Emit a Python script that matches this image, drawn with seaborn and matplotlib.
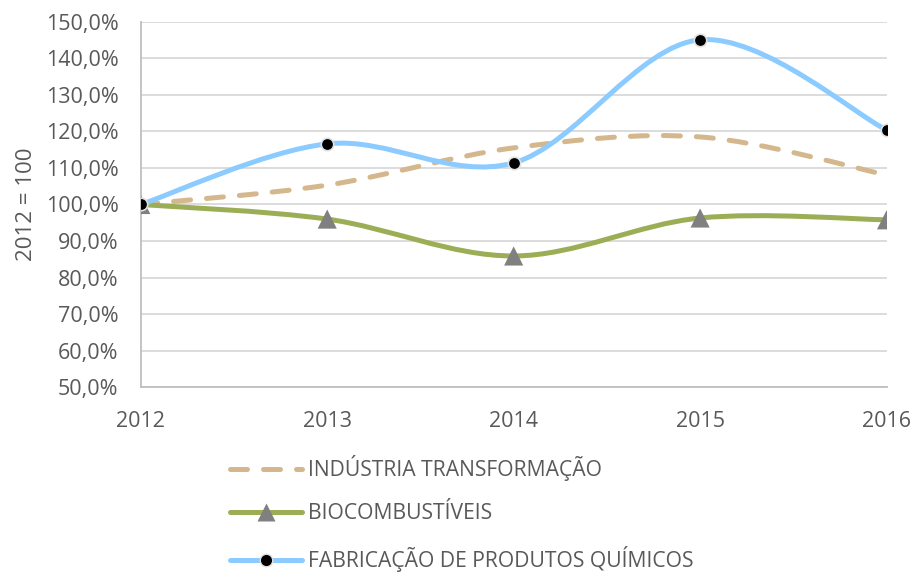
import numpy as np
import matplotlib
matplotlib.use("Agg")
import matplotlib.pyplot as plt
from matplotlib.path import Path
from matplotlib.patches import PathPatch
from matplotlib.lines import Line2D
from matplotlib.ticker import FuncFormatter
import pandas as pd
import seaborn as sns

# Dados (2012 = 100)
anos = [2012, 2013, 2014, 2015, 2016]
industria = [100.0, 105.3, 115.5, 118.5, 108.1]
biocombustiveis = [100.0, 96.0, 85.9, 96.3, 95.8]
quimicos = [100.0, 116.6, 111.4, 145.1, 120.4]
nomes = ["INDÚSTRIA TRANSFORMAÇÃO", "BIOCOMBUSTÍVEIS", "FABRICAÇÃO DE PRODUTOS QUÍMICOS"]

cor_ind = "#D4B78C"
cor_bio = "#9BAE55"
cor_qui = "#8CCBFF"
cor_txt = "#595959"

sns.set_style("white")
plt.rcParams["font.family"] = ["Open Sans", "DejaVu Sans"]

df = pd.DataFrame({"ano": anos, "industria": industria,
                   "bio": biocombustiveis, "quimicos": quimicos})


def curva_suave(x, y):
    # bezier estilo Excel (linha suavizada)
    pts = np.column_stack([x, y]).astype(float)
    n = len(pts)
    verts = [pts[0]]
    codes = [Path.MOVETO]
    for i in range(n - 1):
        p0 = pts[max(i - 1, 0)]
        p1 = pts[i]
        p2 = pts[i + 1]
        p3 = pts[min(i + 2, n - 1)]
        verts += [p1 + (p2 - p0) / 6, p2 - (p3 - p1) / 6, p2]
        codes += [Path.CURVE4] * 3
    return Path(verts, codes)


fig = plt.figure(figsize=(9.14, 5.76), dpi=100)
ax = fig.add_axes([0.154, 0.328, 0.816, 0.634])

lw = 3.6
dash = (0, (3.4, 3.2))
ax.add_patch(PathPatch(curva_suave(df["ano"], df["industria"]), fill=False,
                       edgecolor=cor_ind, lw=lw, linestyle=dash, capstyle="round", zorder=3))
ax.add_patch(PathPatch(curva_suave(df["ano"], df["bio"]), fill=False,
                       edgecolor=cor_bio, lw=lw, capstyle="round", zorder=4))
sns.scatterplot(data=df, x="ano", y="bio", marker="^", s=190, color="#808080",
                edgecolor="none", ax=ax, zorder=5, legend=False)
ax.add_patch(PathPatch(curva_suave(df["ano"], df["quimicos"]), fill=False,
                       edgecolor=cor_qui, lw=lw, capstyle="round", zorder=6))
sns.scatterplot(data=df, x="ano", y="quimicos", marker="o", s=80, color="black",
                edgecolor="#E0E0E0", linewidth=1.2, ax=ax, zorder=7, legend=False)

ax.set_xlim(2012, 2016)
ax.set_ylim(50, 150)
ax.set_xticks(anos)
ax.set_yticks(np.arange(50, 151, 10))
ax.yaxis.set_major_formatter(FuncFormatter(lambda v, p: f"{v:.1f}%".replace(".", ",")))
ax.grid(axis="y", color="#D9D9D9", lw=1.3)
ax.grid(axis="x", visible=False)
for s in ["top", "right"]:
    ax.spines[s].set_visible(False)
ax.spines["left"].set_color("#BFBFBF")
ax.spines["bottom"].set_color("#BFBFBF")
ax.spines["left"].set_linewidth(1.3)
ax.spines["bottom"].set_linewidth(1.3)
ax.tick_params(axis="y", length=0, pad=16, labelsize=15.5, labelcolor=cor_txt)
ax.tick_params(axis="x", length=0, pad=17, labelsize=15.5, labelcolor=cor_txt)
ax.set_xlabel("")
ax.set_ylabel("2012 = 100", fontsize=16, color=cor_txt, labelpad=6)

handles = [
    Line2D([], [], color=cor_ind, lw=lw, linestyle=dash, dash_capstyle="round"),
    Line2D([], [], color=cor_bio, lw=lw, solid_capstyle="round", marker="^",
           markersize=13.5, markerfacecolor="#808080", markeredgecolor="none"),
    Line2D([], [], color=cor_qui, lw=lw, solid_capstyle="round", marker="o",
           markersize=9, markerfacecolor="black", markeredgecolor="#E0E0E0"),
]
fig.legend(handles, nomes, loc="upper left", bbox_to_anchor=(230 / 914, 1 - 455 / 576),
           frameon=False, fontsize=15.2, labelcolor=cor_txt, handlelength=3.4,
           handletextpad=0.3, labelspacing=1.04, borderpad=0, borderaxespad=0)

fig.savefig("out.png", dpi=100)
